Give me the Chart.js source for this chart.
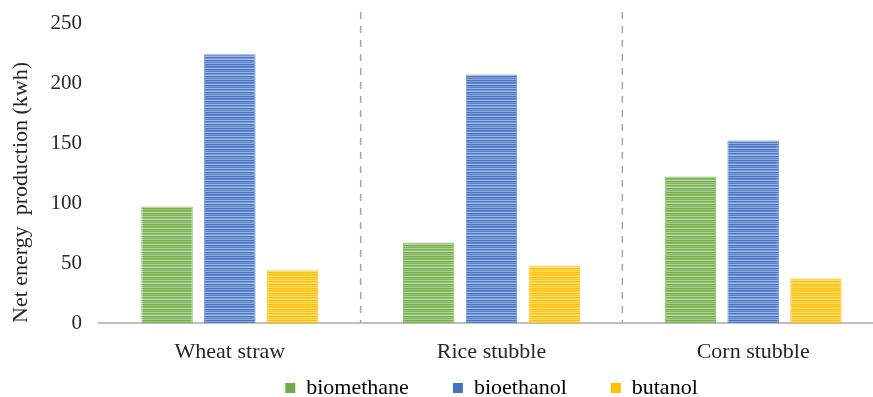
<!DOCTYPE html>
<html>
<head>
<meta charset="utf-8">
<title>Net energy production</title>
<script src="https://cdn.jsdelivr.net/npm/chart.js@4.4.1/dist/chart.umd.min.js"></script>
<style>
  html, body { margin: 0; padding: 0; background: #ffffff; overflow: hidden; }
  #wrap { width: 900px; height: 397px; }
</style>
</head>
<body>
<div id="wrap"><canvas id="chart" width="900" height="397"></canvas></div>
<script>
// data
const categories = ["Wheat straw", "Rice stubble", "Corn stubble"];
const biomethane = [97, 67, 122];
const bioethanol = [224, 207, 152];
const butanol = [44, 48, 37];
const yTicks = [0, 50, 100, 150, 200, 250];

const baseColors = {
  biomethane: "#70ad47",
  bioethanol: "#4472c4",
  butanol: "#ffc000",
};

// horizontal stripe texture for the bars
const stripeMix = [0, 0.35, 0.05, 0.2, 0.5, 0, 0.3, 0.1, 0.45, 0.05, 0.25, 0.55, 0, 0.3, 0.15, 0.4];

function hexToRgb(hex) {
  const n = parseInt(hex.slice(1), 16);
  return [(n >> 16) & 255, (n >> 8) & 255, n & 255];
}

function stripePattern(hex) {
  const c = document.createElement("canvas");
  c.width = 4;
  c.height = stripeMix.length;
  const g = c.getContext("2d");
  const [r, gr, b] = hexToRgb(hex);
  stripeMix.forEach((m, i) => {
    const mix = v => Math.round(v + (255 - v) * m);
    g.fillStyle = `rgb(${mix(r)},${mix(gr)},${mix(b)})`;
    g.fillRect(0, i, 4, 1);
  });
  return g.createPattern(c, "repeat");
}

// dashed separators between the categories
const separators = {
  id: "separators",
  afterDatasetsDraw(chart) {
    const { ctx, chartArea, scales } = chart;
    const x = scales.x;
    ctx.save();
    ctx.strokeStyle = "#a6a6a6";
    ctx.lineWidth = 1.5;
    ctx.setLineDash([7, 7]);
    for (let i = 0; i < categories.length - 1; i++) {
      const px = (x.getPixelForValue(i) + x.getPixelForValue(i + 1)) / 2;
      ctx.beginPath();
      ctx.moveTo(px, 12);
      ctx.lineTo(px, chartArea.bottom);
      ctx.stroke();
    }
    ctx.restore();
  },
};

// the legend keeps its wide item spacing but sits close under the axis labels
const legendLift = {
  id: "legendLift",
  afterLayout(chart) {
    if (chart.legend) chart.legend.top -= 30;
  },
};

const serif = "'Liberation Serif', 'Times New Roman', serif";
const tickFont = { family: serif, size: 21 };
const labelFont = { family: serif, size: 22 };

function series(label, values, key) {
  return {
    label: label,
    data: values,
    backgroundColor: stripePattern(baseColors[key]),
    borderColor: baseColors[key] + "cc",
    borderWidth: 1,
    borderSkipped: false,
    categoryPercentage: 0.72,
    barPercentage: 0.82,
    legendColor: baseColors[key],
  };
}

new Chart(document.getElementById("chart"), {
  type: "bar",
  data: {
    labels: categories,
    datasets: [
      series("biomethane", biomethane, "biomethane"),
      series("bioethanol", bioethanol, "bioethanol"),
      series("butanol", butanol, "butanol"),
    ],
  },
  plugins: [separators, legendLift],
  options: {
    responsive: false,
    animation: false,
    devicePixelRatio: 1,
    layout: { padding: { left: 0, right: 16, top: 23, bottom: 0 } },
    plugins: {
      tooltip: { enabled: false },
      legend: {
        position: "bottom",
        fullSize: false,
        maxHeight: 34,
        labels: {
          font: labelFont,
          color: "#262626",
          boxWidth: 10,
          boxHeight: 10,
          padding: 44,
          generateLabels(chart) {
            return chart.data.datasets.map((ds, i) => ({
              text: ds.label,
              fillStyle: ds.legendColor,
              strokeStyle: ds.legendColor,
              lineWidth: 0,
              datasetIndex: i,
            }));
          },
        },
      },
    },
    scales: {
      x: {
        grid: { display: false },
        border: { display: true, color: "#bfbfbf", width: 2 },
        ticks: { font: labelFont, color: "#262626", padding: 8 },
        afterFit(scale) { scale.height = 40; },
      },
      y: {
        min: 0,
        max: 250,
        afterBuildTicks(scale) { scale.ticks = yTicks.map(v => ({ value: v })); },
        grid: { display: false },
        border: { display: false },
        ticks: { font: tickFont, color: "#262626", padding: 9 },
        title: {
          display: true,
          text: "Net energy  production (kwh)",
          font: labelFont,
          color: "#262626",
          align: "start",
          padding: { top: 8, bottom: 0 },
        },
        afterFit(scale) { scale.width = 99; },
      },
    },
  },
});
</script>
</body>
</html>
